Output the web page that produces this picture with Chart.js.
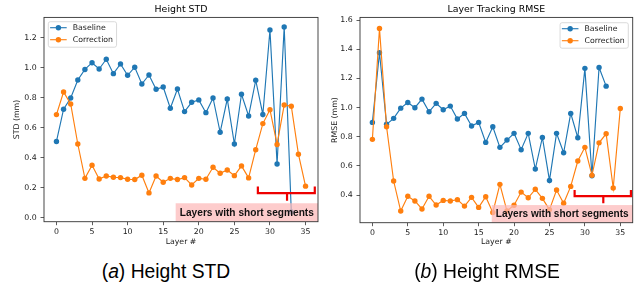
<!DOCTYPE html>
<html><head><meta charset="utf-8">
<script src="https://cdn.jsdelivr.net/npm/chart.js@4/dist/chart.umd.min.js"></script>
<style>
html,body{margin:0;padding:0;background:#fff;}
#wrap{position:relative;width:641px;height:286px;overflow:hidden;background:#fff;}
canvas{position:absolute;top:0;}
.cap{position:absolute;top:261px;height:22px;line-height:22px;font-family:'Liberation Sans',Arial,sans-serif;font-size:19.3px;color:#000;white-space:nowrap;text-align:center;}
</style></head><body>
<div id="wrap">
<canvas id="c1" width="322" height="250" style="left:0px"></canvas>
<canvas id="c2" width="321" height="250" style="left:320px"></canvas>
<div class="cap" style="left:66px;width:200px">(<i>a</i>) Height STD</div>
<div class="cap" style="left:387px;width:200px">(<i>b</i>) Height RMSE</div>
</div>
<script>
const layers = [0,1,2,3,4,5,6,7,8,9,10,11,12,13,14,15,16,17,18,19,20,21,22,23,24,25,26,27,28,29,30,31,32,33,34,35];
const xTicks = [0,5,10,15,20,25,30,35];
const stdTicks = [0.0,0.2,0.4,0.6,0.8,1.0,1.2];
const rmseTicks = [0.4,0.6,0.8,1.0,1.2,1.4,1.6];
const seriesNames = ['Baseline','Correction'];
const seriesColors = ['#1f77b4','#ff7f0e'];
const titles = ['Height STD','Layer Tracking RMSE'];
const yLabels = ['STD (mm)','RMSE (mm)'];
const xLabel = 'Layer #';
const noteText = 'Layers with short segments';

const stdBaseline = [0.51,0.725,0.80,0.92,0.99,1.035,0.993,1.058,0.962,1.027,0.951,1.005,0.893,0.953,0.858,0.873,0.731,0.86,0.709,0.771,0.787,0.702,0.80,0.571,0.793,0.493,0.825,0.68,0.918,0.69,1.253,0.36,1.273,0.04];
const stdCorrection = [0.689,0.84,0.76,0.493,0.264,0.351,0.26,0.28,0.271,0.269,0.258,0.256,0.285,0.167,0.28,0.238,0.264,0.256,0.269,0.22,0.264,0.258,0.338,0.298,0.32,0.282,0.347,0.267,0.455,0.629,0.722,0.49,0.753,0.745,0.425,0.212];
const rmseBaseline = [0.898,1.376,0.885,0.926,0.996,1.035,0.999,1.058,0.971,1.029,0.985,1.01,0.921,0.96,0.873,0.898,0.761,0.868,0.727,0.777,0.823,0.711,0.823,0.578,0.795,0.50,0.823,0.69,0.96,0.793,1.269,0.532,1.275,1.147];
const rmseCorrection = [0.782,1.543,0.868,0.496,0.29,0.391,0.359,0.304,0.391,0.331,0.363,0.359,0.368,0.324,0.384,0.315,0.388,0.28,0.473,0.29,0.33,0.42,0.381,0.439,0.377,0.3,0.434,0.343,0.459,0.633,0.727,0.535,0.758,0.82,0.448,0.994];

const FONT = "'DejaVu Sans', sans-serif";
const FS = 7.8;

const mplPlugin = {
  id: 'mpl',
  afterDatasetsDraw(chart) {
    const o = chart.options.plugins.mpl;
    const ctx = chart.ctx, ca = chart.chartArea;
    const xs = chart.scales.x, ys = chart.scales.y;
    ctx.save();
    // annotation box
    const a = o.note;
    const bx0 = xs.getPixelForValue(a.x0), bx1 = ca.right;
    const by0 = ys.getPixelForValue(a.top), by1 = ca.bottom;
    ctx.fillStyle = 'rgba(252,185,185,0.72)';
    ctx.fillRect(bx0, by0, bx1 - bx0, by1 - by0);
    let fs = 12.5;
    ctx.font = 'bold ' + fs + "px 'Liberation Sans Narrow', 'Liberation Sans', sans-serif";
    const target = bx1 - bx0 - 8;
    const w = ctx.measureText(noteText).width;
    if (w > target) { fs = fs * target / w; ctx.font = 'bold ' + fs + "px 'Liberation Sans Narrow', 'Liberation Sans', sans-serif"; }
    ctx.fillStyle = '#111';
    ctx.textAlign = 'center'; ctx.textBaseline = 'middle';
    ctx.fillText(noteText, (bx0 + bx1) / 2, (by0 + by1) / 2 + 0.5);
    // bracket
    const b = o.bracket;
    const L = xs.getPixelForValue(b.x0), R = xs.getPixelForValue(b.x1), M = xs.getPixelForValue(b.xm);
    const Y = ys.getPixelForValue(b.y), Ye = ys.getPixelForValue(b.yEnd), Yt = ys.getPixelForValue(b.yTip);
    ctx.strokeStyle = '#ee0000'; ctx.lineWidth = 2.2; ctx.lineJoin = 'miter';
    ctx.beginPath();
    ctx.moveTo(L, Ye); ctx.lineTo(L, Y); ctx.lineTo(R, Y); ctx.lineTo(R, Ye);
    ctx.moveTo(M, Y); ctx.lineTo(M, Yt);
    ctx.stroke();
    // frame
    ctx.strokeStyle = '#333'; ctx.lineWidth = 0.9;
    ctx.strokeRect(ca.left, ca.top, ca.right - ca.left, ca.bottom - ca.top);
    // legend
    ctx.font = FS + 'px ' + FONT;
    const tw = Math.max(...seriesNames.map(n => ctx.measureText(n).width));
    const lw = 24.4 + tw + 3.5, lh = 25.5;
    const lx = o.legendSide === 'left' ? ca.left + 4.3 : ca.right - 4.4 - lw;
    const ly = ca.top + o.legendTop;
    ctx.fillStyle = 'rgba(255,255,255,0.85)';
    ctx.strokeStyle = '#d0d0d0'; ctx.lineWidth = 0.8;
    ctx.beginPath();
    if (ctx.roundRect) ctx.roundRect(lx, ly, lw, lh, 2); else ctx.rect(lx, ly, lw, lh);
    ctx.fill(); ctx.stroke();
    ctx.textAlign = 'left'; ctx.textBaseline = 'middle';
    seriesNames.forEach((n, i) => {
      const yy = ly + 6 + i * 12;
      ctx.strokeStyle = seriesColors[i]; ctx.lineWidth = 1.1;
      ctx.beginPath(); ctx.moveTo(lx + 1.8, yy); ctx.lineTo(lx + 18.4, yy); ctx.stroke();
      ctx.fillStyle = seriesColors[i];
      ctx.beginPath(); ctx.arc(lx + 10.1, yy, 2.7, 0, Math.PI * 2); ctx.fill();
      ctx.fillStyle = '#1a1a1a';
      ctx.fillText(n, lx + 24.4, yy + 0.3);
    });
    ctx.restore();
  }
};

function makeChart(id, idx, base, corr, yTicks, ymin, ymax, geo, note, bracket, legendSide, legendTop) {
  const mk = (arr) => arr.map((v, i) => ({x: layers[i], y: v}));
  return new Chart(document.getElementById(id), {
    type: 'line',
    data: {
      datasets: [
        {label: seriesNames[0], data: mk(base), borderColor: seriesColors[0], backgroundColor: seriesColors[0],
         borderWidth: 1.15, pointRadius: 2.7, pointBorderWidth: 0, pointBackgroundColor: seriesColors[0], tension: 0, order: 1},
        {label: seriesNames[1], data: mk(corr), borderColor: seriesColors[1], backgroundColor: seriesColors[1],
         borderWidth: 1.15, pointRadius: 2.7, pointBorderWidth: 0, pointBackgroundColor: seriesColors[1], tension: 0, order: 0}
      ]
    },
    options: {
      responsive: false, animation: false, devicePixelRatio: 1,
      layout: {padding: {left: 0, right: geo.rp, top: 0, bottom: 0}},
      plugins: {
        legend: {display: false}, tooltip: {enabled: false},
        title: {display: true, text: titles[idx], fullSize: false, color: '#000',
                font: {family: FONT, size: 9.4, weight: 'normal', lineHeight: 1.15}, padding: {top: 4.6, bottom: 2}},
        mpl: {note: note, bracket: bracket, legendSide: legendSide, legendTop: legendTop}
      },
      scales: {
        x: {type: 'linear', min: -1.75, max: 36.75,
            afterFit: s => { s.height = geo.xh; },
            afterBuildTicks: s => { s.ticks = xTicks.map(v => ({value: v})); },
            grid: {drawOnChartArea: false, drawTicks: true, tickLength: 3.5, color: '#333', lineWidth: 0.8},
            border: {display: false},
            ticks: {font: {family: FONT, size: FS}, color: '#1a1a1a', padding: 2.2, maxRotation: 0, autoSkip: false,
                    callback: v => String(v)},
            title: {display: true, text: xLabel, font: {family: FONT, size: FS}, color: '#1a1a1a', padding: {top: 0, bottom: 3.6}}},
        y: {type: 'linear', min: ymin, max: ymax,
            afterFit: s => { s.width = geo.yw; },
            afterBuildTicks: s => { s.ticks = yTicks.map(v => ({value: v})); },
            grid: {drawOnChartArea: false, drawTicks: true, tickLength: 3.5, color: '#333', lineWidth: 0.8},
            border: {display: false},
            ticks: {font: {family: FONT, size: FS}, color: '#1a1a1a', padding: 3.8, autoSkip: false,
                    callback: v => v.toFixed(1)},
            title: {display: true, text: yLabels[idx], font: {family: FONT, size: FS}, color: '#1a1a1a', padding: {top: geo.ytp, bottom: 0}}}
      }
    },
    plugins: [mplPlugin]
  });
}

makeChart('c1', 0, stdBaseline, stdCorrection, stdTicks, -0.025, 1.337,
  {rp: 3.7, xh: 28.3, yw: 44, ytp: 12.2},
  {x0: 16.75, top: 0.098},
  {x0: 28.3, x1: 36.3, xm: 32.4, y: 0.166, yEnd: 0.209, yTip: 0.115},
  'left', 4.3);
makeChart('c2', 1, rmseBaseline, rmseCorrection, rmseTicks, 0.21, 1.6185,
  {rp: 8.3, xh: 27.3, yw: 40, ytp: 9.8},
  {x0: 16.85, top: 0.331},
  {x0: 28.55, x1: 36.5, xm: 32.6, y: 0.393, yEnd: 0.434, yTip: 0.343},
  'right', 5.3);
</script>
</body></html>
